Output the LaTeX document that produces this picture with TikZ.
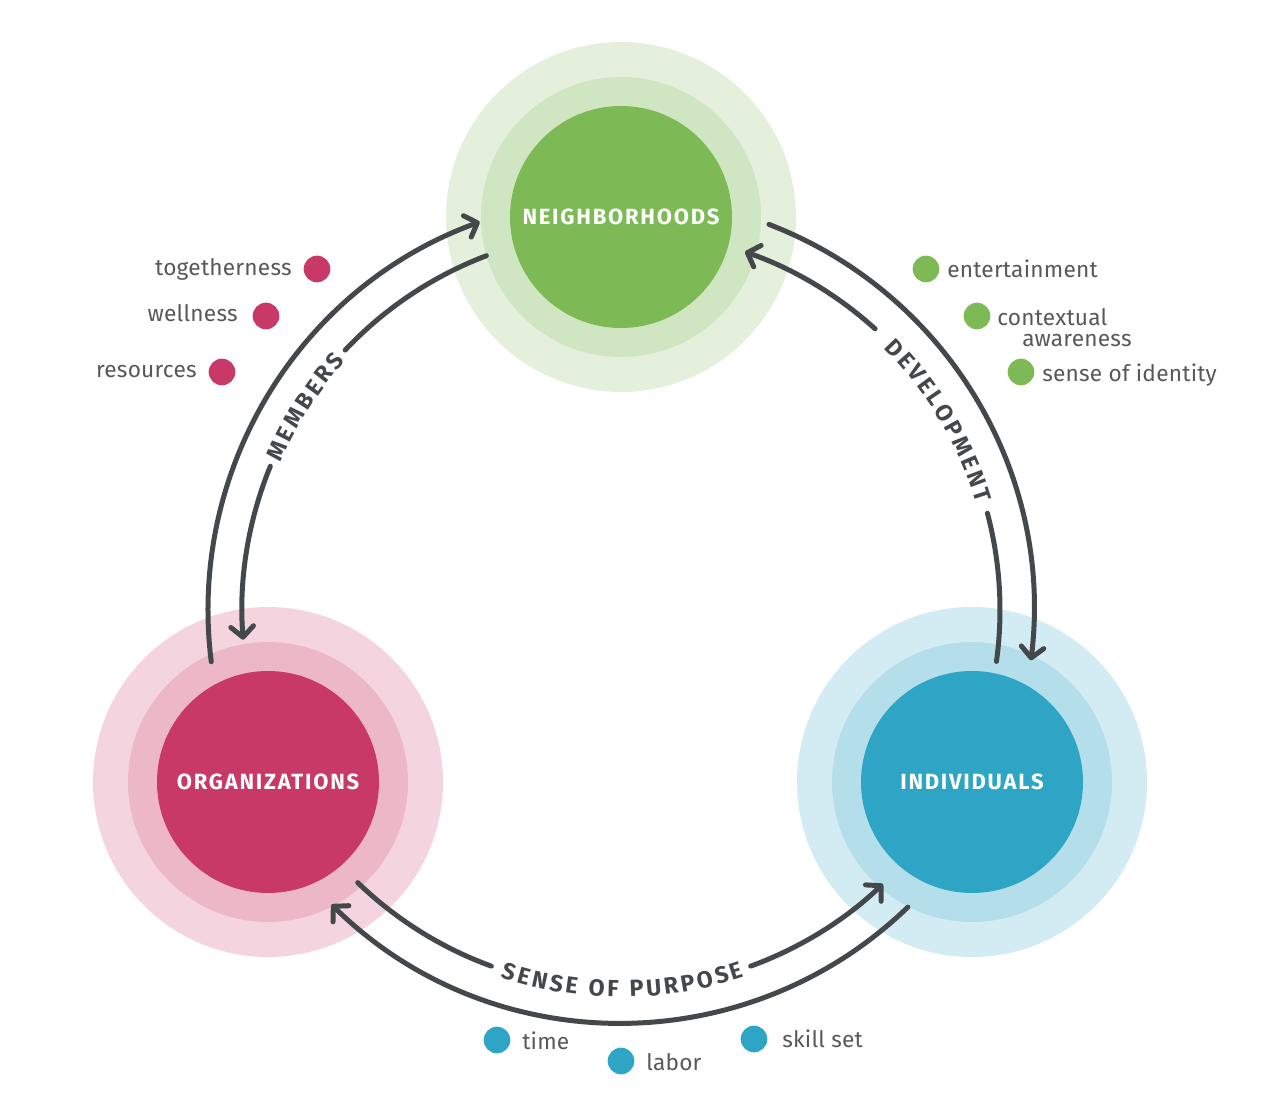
\documentclass[tikz,border=0pt]{standalone}
\usepackage{fontspec}
\setmainfont{Fira Sans}
\newfontfamily\tagfont[LetterSpace=1]{Fira Sans}
\newfontfamily\hubfont[LetterSpace=8]{Fira Sans}
\usetikzlibrary{arrows.meta,decorations.text}

\definecolor{nbgreen}{RGB}{125,185,85}
\definecolor{orgpink}{RGB}{201,57,103}
\definecolor{indblue}{RGB}{46,165,196}
\definecolor{flowgray}{RGB}{69,72,75}
\definecolor{labelgray}{RGB}{88,88,88}

\newcommand{\arcfont}{\bfseries\fontsize{17.5}{20}\selectfont\kern2.2pt}

\tikzset{
  halo/.style={circle, inner sep=0pt, minimum size=262.5pt},
  rim/.style={circle, inner sep=0pt, minimum size=210pt},
  hub/.style={circle, inner sep=0pt, minimum size=166.5pt, text=white, font=\hubfont\bfseries\fontsize{16.5}{19}\selectfont},
  flow/.style={draw=flowgray, line width=3.75pt, line cap=round},
  flowtip/.style={-{Straight Barb[length=8pt,width=17pt,round]}},
  bullet/.style={circle, inner sep=0pt, minimum size=20pt},
  tag/.style={inner sep=0pt, text=labelgray, font=\tagfont\fontsize{17}{16.3}\selectfont},
  arclabel/.style={decorate, decoration={text along path, text align=center, text color=flowgray, text={|\arcfont|#1}}},
}

\begin{document}
\begin{tikzpicture}[x=0.75pt,y=0.75pt,yscale=-1,xscale=1]
        \path [use as bounding box] (0,0) rectangle (1286,1112);

        % Circle Nodes
        \node [halo, fill=nbgreen!21] (neighHalo) at (621,217) {};
        \node [rim, fill=nbgreen!36] (neighRim) at (neighHalo) {};
        \node [hub, fill=nbgreen] (neigh) at (neighHalo) {NEIGHBORHOODS};
        \node [halo, fill=orgpink!21] (orgHalo) at (268,782) {};
        \node [rim, fill=orgpink!36] (orgRim) at (orgHalo) {};
        \node [hub, fill=orgpink] (org) at (orgHalo) {ORGANIZATIONS};
        \node [halo, fill=indblue!21] (indHalo) at (972,782) {};
        \node [rim, fill=indblue!36] (indRim) at (indHalo) {};
        \node [hub, fill=indblue] (ind) at (indHalo) {INDIVIDUALS};

        \coordinate (loop) at (621,610);

        % Arcs: members
        \draw [flow, flowtip] ([shift={(172.8:413)}]loop) arc [start angle=172.8, end angle=250, radius=413];
        \draw [flow] ([shift={(249.2:379)}]loop) arc [start angle=249.2, end angle=223.3, radius=379];
        \draw [flow, flowtip] ([shift={(202.3:379)}]loop) arc [start angle=202.3, end angle=175.5, radius=379];
        \path [arclabel=MEMBERS] ([shift={(192:371)}]loop) arc [start angle=192, end angle=233, radius=371];

        % Arcs: development
        \draw [flow, flowtip] ([shift={(291:413)}]loop) arc [start angle=291, end angle=367, radius=413];
        \draw [flow] ([shift={(7.8:379)}]loop) arc [start angle=7.8, end angle=-14.8, radius=379];
        \draw [flow, flowtip] ([shift={(-47.9:379)}]loop) arc [start angle=-47.9, end angle=-70.9, radius=379];
        \path [arclabel=DEVELOPMENT] ([shift={(-52:371)}]loop) arc [start angle=-52, end angle=-10, radius=371];

        % Arcs: sense of purpose
        \draw [flow, flowtip] ([shift={(46:413)}]loop) arc [start angle=46, end angle=134.5, radius=413];
        \draw [flow] ([shift={(134:379)}]loop) arc [start angle=134, end angle=110, radius=379];
        \draw [flow, flowtip] ([shift={(70:379)}]loop) arc [start angle=70, end angle=46.3, radius=379];
        \path [arclabel=SENSE OF PURPOSE] ([shift={(115:387)}]loop) arc [start angle=115, end angle=65, radius=387];

        % Text Nodes
        \node [bullet, fill=orgpink] (dotTogether) at (317,269) {};
        \node [tag, anchor=base east] (tagTogether) at (292,276) {togetherness};
        \node [bullet, fill=orgpink] (dotWellness) at (266,316) {};
        \node [tag, anchor=base east] (tagWellness) at (238,322) {wellness};
        \node [bullet, fill=orgpink] (dotResources) at (222,372) {};
        \node [tag, anchor=base east] (tagResources) at (197,378) {resources};

        \node [bullet, fill=nbgreen] (dotEntertain) at (926,269) {};
        \node [tag, anchor=base west] (tagEntertain) at (947,278) {entertainment};
        \node [bullet, fill=nbgreen] (dotContext) at (977,316) {};
        \node [tag, anchor=base west, align=left] (tagContext) at (997,347) {contextual\\\hspace*{18.75pt}awareness};
        \node [bullet, fill=nbgreen] (dotIdentity) at (1021,372) {};
        \node [tag, anchor=base west] (tagIdentity) at (1042,382) {sense of identity};

        \node [bullet, fill=indblue] (dotTime) at (497,1040) {};
        \node [tag, anchor=base west] (tagTime) at (522,1049) {time};
        \node [bullet, fill=indblue] (dotLabor) at (621,1061) {};
        \node [tag, anchor=base west] (tagLabor) at (646,1070) {labor};
        \node [bullet, fill=indblue] (dotSkill) at (754,1039) {};
        \node [tag, anchor=base west] (tagSkill) at (782,1047) {skill set};

\end{tikzpicture}
\end{document}
